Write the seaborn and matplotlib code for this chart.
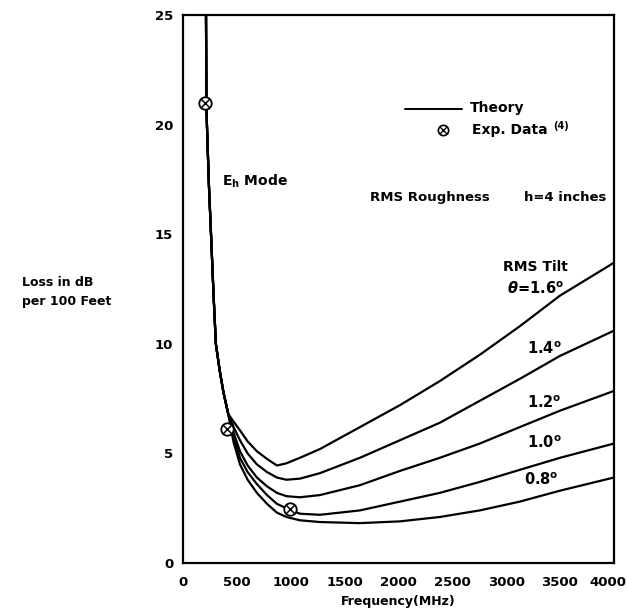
import pandas as pd
import matplotlib
matplotlib.use("Agg")
import matplotlib.pyplot as plt
import matplotlib.transforms as mtrans
import seaborn as sns

# common steep branch (all tilts coincide below ~420 MHz)
shared_freq = [213, 217, 222, 240, 260, 283, 305, 340, 375, 420]
shared_loss = [25.5, 21.0, 20.0, 17.3, 15.0, 12.3, 10.0, 8.8, 7.8, 6.8]

# branches for each RMS tilt
branch_freq = [470, 529, 600, 686, 780, 872, 960, 1085, 1271, 1642, 2013, 2384, 2755, 3126, 3500, 4000]
loss_16 = [6.45, 6.05, 5.55, 5.1, 4.75, 4.45, 4.55, 4.8, 5.2, 6.2, 7.2, 8.3, 9.5, 10.8, 12.2, 13.7]
loss_14 = [6.2, 5.6, 5.0, 4.5, 4.15, 3.9, 3.8, 3.85, 4.1, 4.8, 5.6, 6.4, 7.4, 8.4, 9.45, 10.6]
loss_12 = [5.95, 5.1, 4.45, 3.9, 3.5, 3.2, 3.05, 3.0, 3.1, 3.55, 4.2, 4.8, 5.45, 6.2, 6.95, 7.85]
loss_10 = [5.75, 4.8, 4.15, 3.6, 3.1, 2.7, 2.5, 2.25, 2.2, 2.4, 2.8, 3.2, 3.7, 4.25, 4.8, 5.45]
loss_08 = [5.5, 4.5, 3.8, 3.2, 2.7, 2.3, 2.1, 1.95, 1.87, 1.82, 1.9, 2.1, 2.4, 2.8, 3.3, 3.9]

tilts = ["1.6", "1.4", "1.2", "1.0", "0.8"]
branches = [loss_16, loss_14, loss_12, loss_10, loss_08]

exp_freq = [205, 410, 995]
exp_loss = [21.0, 6.1, 2.45]

rows = []
for t, b in zip(tilts, branches):
    for f, l in zip(shared_freq + branch_freq, shared_loss + b):
        rows.append({"freq": f, "loss": l, "tilt": t})
df = pd.DataFrame(rows)

sns.set_style("white")
plt.rcParams["font.family"] = ["DejaVu Sans"]
plt.rcParams["font.weight"] = "bold"
plt.rcParams["text.color"] = "black"
plt.rcParams["axes.labelcolor"] = "black"
plt.rcParams["xtick.color"] = "black"
plt.rcParams["ytick.color"] = "black"
plt.rcParams["mathtext.fontset"] = "custom"
plt.rcParams["mathtext.rm"] = "DejaVu Sans:bold"
plt.rcParams["mathtext.bf"] = "DejaVu Sans:bold"
plt.rcParams["mathtext.it"] = "DejaVu Sans:italic"

fig = plt.figure(figsize=(6.27, 6.08), dpi=100)
ax = fig.add_axes([0.2919, 0.074, 0.687, 0.901])

sns.lineplot(data=df, x="freq", y="loss", hue="tilt", units="tilt", estimator=None,
             palette=["black"] * 5, linewidth=1.6, legend=False, ax=ax)

ax.scatter(exp_freq, exp_loss, s=80, facecolor="white", edgecolor="black",
           linewidth=1.3, zorder=5)
ax.scatter(exp_freq, exp_loss, s=35, marker="x", color="black", linewidth=1.1, zorder=6)

ax.set_xlim(0, 4000)
ax.set_ylim(0, 25)
ax.set_xticks([0, 500, 1000, 1500, 2000, 2500, 3000, 3500, 4000])
ax.set_yticks([0, 5, 10, 15, 20, 25])
ax.tick_params(direction="in", length=9.5, width=1.4, labelsize=9.5,
               top=False, right=False, colors="black")
ax.tick_params(axis="x", pad=9)
ax.tick_params(axis="y", pad=7)
for lab in ax.get_xticklabels() + ax.get_yticklabels():
    lab.set_fontweight("bold")
last = ax.get_xticklabels()[-1]
last.set_transform(last.get_transform() + mtrans.ScaledTranslation(-6 / 100, 0, fig.dpi_scale_trans))
for s in ax.spines.values():
    s.set_color("black")
    s.set_linewidth(1.6)
ax.set_xlabel("Frequency(MHz)", fontsize=9, fontweight="bold", labelpad=5)
ax.set_ylabel("")

fig.text(22 / 627, 1 - 292 / 608, "Loss in dB\nper 100 Feet", fontsize=9,
         fontweight="bold", va="center", ha="left", linespacing=1.6)

# legend drawn by hand
ax.plot([2060, 2590], [20.7, 20.7], color="black", linewidth=1.4)
ax.text(2660, 20.75, "Theory", fontsize=10, va="center")
ax.scatter([2410], [19.75], s=55, facecolor="white", edgecolor="black", linewidth=1.2, zorder=5)
ax.scatter([2410], [19.75], s=24, marker="x", color="black", linewidth=1.0, zorder=6)
ax.text(2680, 19.75, "Exp. Data", fontsize=10, va="center")
ax.text(3440, 19.95, "(4)", fontsize=7, va="center")

ax.text(360, 17.4, r"E$_{\rm h}$ Mode", fontsize=10, va="center")
ax.text(1735, 16.7, "RMS Roughness", fontsize=9.5, va="center")
ax.text(3170, 16.7, "h=4 inches", fontsize=9.5, va="center")

ax.text(2968, 13.5, "RMS Tilt", fontsize=10, va="center")
ax.text(3005, 12.5, r"$\it{\theta}$=1.6$^{\rm o}$", fontsize=10.5, va="center")
ax.text(3190, 9.8, r"1.4$^{\rm o}$", fontsize=10.5, va="center")
ax.text(3190, 7.3, r"1.2$^{\rm o}$", fontsize=10.5, va="center")
ax.text(3190, 5.5, r"1.0$^{\rm o}$", fontsize=10.5, va="center")
ax.text(3170, 3.8, r"0.8$^{\rm o}$", fontsize=10.5, va="center")

fig.savefig("out.png", dpi=100)
